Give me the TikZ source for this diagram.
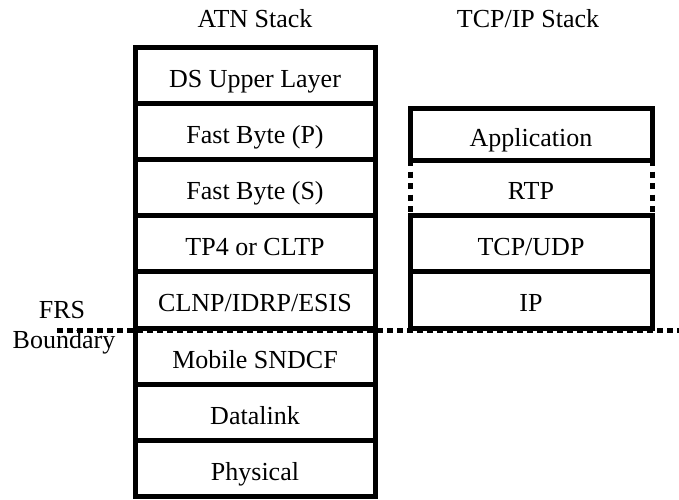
\documentclass[tikz,border=0pt]{standalone}
\usepackage{fontspec}
\setmainfont{Liberation Serif}
\usepackage{tikz}

\tikzset{
  layer/.style={draw, line width=5pt, outer sep=0pt, inner sep=0pt,
    minimum width=240pt, minimum height=56.2pt,
    text height=24pt, text depth=0pt,
    font=\fontsize{26}{30}\selectfont},
  tcplayer/.style={layer, minimum width=242pt},
  title/.style={anchor=base, inner sep=0pt, font=\fontsize{26}{30}\selectfont},
  frsline/.style={line width=5pt, dash pattern=on 6pt off 4pt},
  rtpside/.style={line width=5pt, dash pattern=on 6pt off 5.5pt}
}

\begin{document}
\begin{tikzpicture}[x=1pt, y=-1pt]
\useasboundingbox (0,0) rectangle (679,499);

% boundary between ground and air
\coordinate (frsL) at (57,330);
\coordinate (frsR) at (679,330);
\draw[frsline] (frsL) -- (frsR);
\node[title] (frs) at (62,318) {FRS};
\node[title] (bnd) at (64,348) {Boundary};

% ATN stack
\node[title] (atn) at (255,27) {ATN Stack};
\foreach \name/\txt [count=\i] in {ds/DS Upper Layer, fbp/Fast Byte (P),
    fbs/Fast Byte (S), tp/TP4 or CLTP, clnp/{CLNP/IDRP/ESIS},
    sndcf/Mobile SNDCF, dlink/Datalink, phys/Physical}
  \node[layer] (\name) at (255,{47+56.2*(\i-0.5)}) {\txt};

% TCP/IP stack
\node[title] (tcpip) at (528,27) {TCP/IP Stack};
\node[tcplayer, minimum height=52pt] (app) at (531,134) {Application};
\node[tcplayer, draw=none] (rtp) at (531,{47+56.2*2.5}) {RTP};
\node[tcplayer] (tcp) at (531,{47+56.2*3.5}) {TCP/UDP};
\node[tcplayer] (ip) at (531,{47+56.2*4.5}) {IP};
\draw[rtpside] (app.south west) -- (tcp.north west);
\draw[rtpside] (app.south east) -- (tcp.north east);
\end{tikzpicture}
\end{document}
